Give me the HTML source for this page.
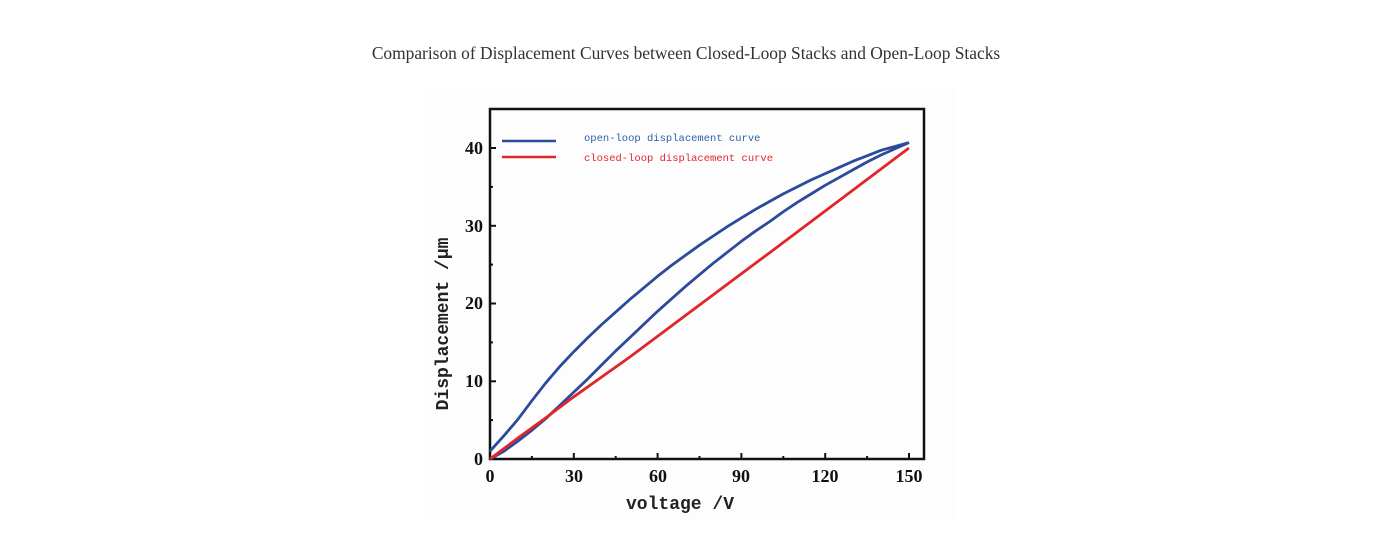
<!DOCTYPE html>
<html><head><style>
body{margin:0;background:#fff;width:1396px;height:543px;overflow:hidden}
</style></head><body>
<svg width="1396" height="543" xmlns="http://www.w3.org/2000/svg">
<text x="686" y="59" text-anchor="middle" font-family="Liberation Serif,serif" font-size="17.4" fill="#333">Comparison of Displacement Curves between Closed-Loop Stacks and Open-Loop Stacks</text>
<rect x="425" y="88" width="530" height="432" fill="#fdfdfd"/>
<g stroke="#111" stroke-width="2.5" fill="none">
<rect x="490" y="109" width="434" height="350"/>
</g>
<g stroke="#111" stroke-width="2">
<line x1="490" y1="459" x2="496" y2="459"/><line x1="490" y1="381.3" x2="496" y2="381.3"/><line x1="490" y1="303.5" x2="496" y2="303.5"/><line x1="490" y1="225.8" x2="496" y2="225.8"/><line x1="490" y1="148" x2="496" y2="148"/>
<line x1="490" y1="420.1" x2="493" y2="420.1"/><line x1="490" y1="342.4" x2="493" y2="342.4"/><line x1="490" y1="264.6" x2="493" y2="264.6"/><line x1="490" y1="186.9" x2="493" y2="186.9"/>
<line x1="573.8" y1="459" x2="573.8" y2="453"/><line x1="657.6" y1="459" x2="657.6" y2="453"/><line x1="741.4" y1="459" x2="741.4" y2="453"/><line x1="825.2" y1="459" x2="825.2" y2="453"/><line x1="909" y1="459" x2="909" y2="453"/>
<line x1="531.9" y1="459" x2="531.9" y2="456"/><line x1="615.7" y1="459" x2="615.7" y2="456"/><line x1="699.5" y1="459" x2="699.5" y2="456"/><line x1="783.3" y1="459" x2="783.3" y2="456"/><line x1="867.1" y1="459" x2="867.1" y2="456"/>
</g>
<g font-family="Liberation Serif,serif" font-weight="bold" font-size="18" fill="#111" text-anchor="end">
<text x="483" y="465">0</text><text x="483" y="387">10</text><text x="483" y="309">20</text><text x="483" y="232">30</text><text x="483" y="154">40</text>
</g>
<g font-family="Liberation Serif,serif" font-weight="bold" font-size="18" fill="#111" text-anchor="middle">
<text x="490" y="482">0</text><text x="574" y="482">30</text><text x="658" y="482">60</text><text x="741" y="482">90</text><text x="825" y="482">120</text><text x="909" y="482">150</text>
</g>
<text x="680" y="509" text-anchor="middle" font-family="Liberation Mono,monospace" font-weight="bold" font-size="18" fill="#222">voltage /V</text>
<text transform="translate(448,324) rotate(-90)" text-anchor="middle" font-family="Liberation Mono,monospace" font-weight="bold" font-size="18" fill="#222">Displacement /μm</text>
<line x1="502" y1="141" x2="556" y2="141" stroke="#2b4a9c" stroke-width="2.5"/>
<line x1="502" y1="157" x2="556" y2="157" stroke="#e0262b" stroke-width="2.5"/>
<text x="584" y="141" font-family="Liberation Mono,monospace" font-size="10.5" fill="#2b62a8">open-loop displacement curve</text>
<text x="584" y="161" font-family="Liberation Mono,monospace" font-size="10.5" fill="#e0262b">closed-loop displacement curve</text>
<g transform="translate(490,459) scale(2.793,-7.775)" fill="none" stroke-linejoin="round">
<polyline vector-effect="non-scaling-stroke" stroke="#2b4a9c" stroke-width="2.8" points="0,1 5,3 10,5.1 15,7.5 20,9.8 25,11.9 30,13.8 35,15.6 40,17.3 45,18.9 50,20.5 55,22 60,23.5 65,24.9 70,26.2 75,27.5 80,28.7 85,29.9 90,31 95,32.1 100,33.1 105,34.1 110,35 115,35.9 120,36.7 125,37.5 130,38.3 135,39 140,39.7 145,40.2 150,40.7"/>
<polyline vector-effect="non-scaling-stroke" stroke="#2b4a9c" stroke-width="2.8" points="0,0 5,1 10,2.3 15,3.7 20,5.2 25,6.9 30,8.6 35,10.3 40,12.1 45,13.9 50,15.6 55,17.3 60,19 65,20.6 70,22.2 75,23.7 80,25.2 85,26.6 90,28 95,29.3 100,30.5 105,31.8 110,33 115,34.1 120,35.2 125,36.2 130,37.2 135,38.2 140,39.1 145,39.9 150,40.7"/>
<polyline vector-effect="non-scaling-stroke" stroke="#e0262b" stroke-width="2.8" points="0,0 10,2.7 20,5.3 30,8 50,13.1 100,26.5 150,40"/>
</g>
</svg>
</body></html>
